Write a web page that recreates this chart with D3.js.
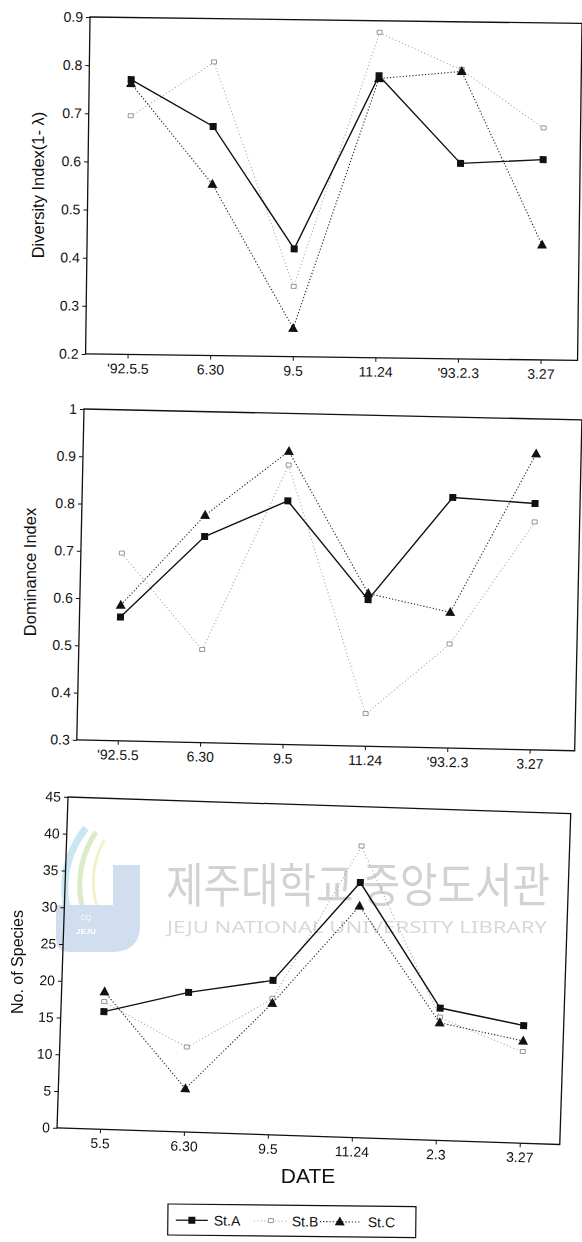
<!DOCTYPE html>
<html>
<head>
<meta charset="utf-8">
<script src="https://cdn.jsdelivr.net/npm/d3@7"></script>
<style>
  html, body { margin: 0; padding: 0; background: #fff; }
  svg { display: block; font-family: "Liberation Sans", Arial, sans-serif; }
</style>
</head>
<body>
<svg id="chart" width="582" height="1242"></svg>
<script>
// ---------- data ----------
const datesTop = ["'92.5.5", "6.30", "9.5", "11.24", "'93.2.3", "3.27"];
const datesBottom = ["5.5", "6.30", "9.5", "11.24", "2.3", "3.27"];
const seriesNames = ["St.A", "St.B", "St.C"];

// Diversity Index (1-λ)
const divA = [0.771, 0.676, 0.424, 0.786, 0.606, 0.616];
const divB = [0.695, 0.809, 0.345, 0.875, 0.800, 0.681];
const divC = [0.763, 0.556, 0.259, 0.780, 0.797, 0.439];
const divTicks = [0.2, 0.3, 0.4, 0.5, 0.6, 0.7, 0.8, 0.9];

// Dominance Index
const domA = [0.562, 0.736, 0.815, 0.610, 0.830, 0.821];
const domB = [0.696, 0.496, 0.890, 0.368, 0.519, 0.781];
const domC = [0.587, 0.781, 0.920, 0.623, 0.587, 0.926];
const domTicks = [0.3, 0.4, 0.5, 0.6, 0.7, 0.8, 0.9, 1];

// No. of Species
const spA = [16.0, 19.0, 21.0, 34.7, 18.0, 16.0];
const spB = [17.3, 11.5, 18.5, 39.6, 16.7, 12.4];
const spC = [18.7, 5.9, 17.9, 31.5, 16.0, 13.9];
const spTicks = [0, 5, 10, 15, 20, 25, 30, 35, 40, 45];

// ---------- drawing ----------
const svg = d3.select("#chart");

const styles = {
  "St.A": { stroke: "#111", width: 1.4, dash: null, marker: "square", fill: "#111", size: 7 },
  "St.B": { stroke: "#9a9a9a", width: 1, dash: "1,2.5", marker: "open", fill: "#fff", size: 5 },
  "St.C": { stroke: "#222", width: 1.1, dash: "1.2,2", marker: "triangle", fill: "#111", size: 10 }
};

function drawMarker(g, type, x, y, size, st) {
  if (type === "square") {
    g.append("rect").attr("x", x - size / 2).attr("y", y - size / 2)
      .attr("width", size).attr("height", size).attr("fill", st.fill);
  } else if (type === "open") {
    g.append("rect").attr("x", x - size / 2).attr("y", y - size / 2)
      .attr("width", size).attr("height", size * 0.8)
      .attr("fill", "#fff").attr("stroke", "#8a8a8a").attr("stroke-width", 0.9);
  } else {
    const h = size * 0.9;
    g.append("path")
      .attr("d", `M${x},${y - h * 0.6} L${x + size / 2},${y + h * 0.4} L${x - size / 2},${y + h * 0.4} Z`)
      .attr("fill", st.fill);
  }
}

function drawChart(cfg) {
  const g = svg.append("g")
    .attr("transform", `translate(${cfg.x0},${cfg.y0}) rotate(${cfg.angle})`);
  const x = d3.scalePoint().domain(cfg.cats).range([cfg.xPad, cfg.xPad + cfg.xSpan]);
  const y = d3.scaleLinear().domain(cfg.yDomain).range([cfg.h, 0]);

  g.append("rect").attr("x", 0).attr("y", 0).attr("width", cfg.w).attr("height", cfg.h)
    .attr("fill", "none").attr("stroke", "#111").attr("stroke-width", 1.3);

  const yAxis = d3.axisLeft(y).tickValues(cfg.ticks).tickSize(4).tickPadding(3)
    .tickFormat(cfg.fmt);
  const ya = g.append("g").call(yAxis);
  const xAxis = d3.axisBottom(x).tickSize(4).tickPadding(5);
  const xa = g.append("g").attr("transform", `translate(0,${cfg.h})`).call(xAxis);
  [ya, xa].forEach(a => {
    a.select(".domain").remove();
    a.selectAll("line").attr("stroke", "#111").attr("stroke-width", 1);
    a.selectAll("text").attr("fill", "#111").style("font-size", "14px")
      .style("font-family", "'Liberation Sans', Arial, sans-serif");
  });

  const order = ["St.B", "St.C", "St.A"];
  order.forEach(name => {
    const vals = cfg.series[name];
    const st = styles[name];
    const pts = vals.map((v, i) => [x(cfg.cats[i]), y(v)]);
    g.append("path").attr("d", d3.line()(pts))
      .attr("fill", "none").attr("stroke", st.stroke).attr("stroke-width", st.width)
      .attr("stroke-dasharray", st.dash);
    pts.forEach(p => drawMarker(g, st.marker, p[0], p[1], st.size, st));
  });
  return g;
}

// ---------- watermark ----------
const wm = svg.append("g").attr("opacity", 0.55);
wm.append("path").attr("d", "M86,828 C60,860 58,905 80,940").attr("fill", "none")
  .attr("stroke", "#9fd3e6").attr("stroke-width", 7);
wm.append("path").attr("d", "M96,832 C76,862 74,900 92,930").attr("fill", "none")
  .attr("stroke", "#b7dc9a").attr("stroke-width", 5);
wm.append("path").attr("d", "M104,840 C90,866 90,896 102,918").attr("fill", "none")
  .attr("stroke", "#e8e6a0").attr("stroke-width", 3);
wm.append("path").attr("d", "M113,865 L140,865 L140,925 Q140,952 112,952 L70,952 Q56,952 56,938 L56,905 L113,905 Z")
  .attr("fill", "#a9c3e3");
wm.append("text").attr("x", 86).attr("y", 934).attr("text-anchor", "middle")
  .attr("fill", "#fff").style("font-size", "8px").style("font-weight", "bold").text("JEJU");
wm.append("text").attr("x", 86).attr("y", 920).attr("text-anchor", "middle")
  .attr("fill", "#fff").style("font-size", "7px").text("CQ");
wm.append("text").attr("transform", "translate(166,902) scale(1,1.1)")
  .attr("x", 0).attr("y", 0).attr("textLength", 384).attr("lengthAdjust", "spacingAndGlyphs")
  .attr("fill", "#adadad").style("font-family", "'Noto Sans CJK KR', sans-serif")
  .style("font-size", "42px").text("제주대학교 중앙도서관");
wm.append("text").attr("x", 167).attr("y", 933)
  .attr("textLength", 380).attr("lengthAdjust", "spacingAndGlyphs")
  .attr("fill", "#b8b8b8").style("font-family", "'Noto Sans', sans-serif")
  .style("font-size", "17px").text("JEJU NATIONAL UNIVERSITY LIBRARY");

// ---------- charts ----------
drawChart({
  x0: 90, y0: 17, w: 492, h: 337, angle: 0.75,
  cats: datesTop, xPad: 42, xSpan: 413,
  yDomain: [0.2, 0.9], ticks: divTicks, fmt: d3.format(".1f"),
  series: { "St.A": divA, "St.B": divB, "St.C": divC }
});
drawChart({
  x0: 84, y0: 409, w: 498, h: 331, angle: 1.25,
  cats: datesTop, xPad: 41, xSpan: 412,
  yDomain: [0.3, 1], ticks: domTicks, fmt: d => d === 1 ? "1" : d.toFixed(1),
  series: { "St.A": domA, "St.B": domB, "St.C": domC }
});
drawChart({
  x0: 68, y0: 797, w: 503, h: 331, angle: 1.9,
  cats: datesBottom, xPad: 43, xSpan: 420,
  yDomain: [0, 45], ticks: spTicks, fmt: d3.format("d"),
  series: { "St.A": spA, "St.B": spB, "St.C": spC }
});

// ---------- axis titles ----------
function yTitle(x, y, t, fs) {
  svg.append("text").attr("transform", `translate(${x},${y}) rotate(-90)`)
    .attr("text-anchor", "middle").attr("fill", "#111").style("font-size", fs + "px").text(t);
}
yTitle(44, 185, "Diversity Index(1- λ)", 16.5);
yTitle(36, 572, "Dominance Index", 16.5);
yTitle(23, 962, "No. of Species", 16);

svg.append("text").attr("x", 308).attr("y", 1183).attr("text-anchor", "middle")
  .attr("fill", "#111").style("font-size", "21px").text("DATE");

// ---------- legend ----------
const lg = svg.append("g").attr("transform", "translate(168,1204) rotate(0.6)");
lg.append("rect").attr("x", 0).attr("y", 0).attr("width", 248).attr("height", 31)
  .attr("fill", "#fff").attr("stroke", "#111").attr("stroke-width", 1.2);
const legX = [[8, 40, 46], [86, 120, 124], [152, 192, 200]];
seriesNames.forEach((name, i) => {
  const st = styles[name];
  const [x1, x2, tx] = legX[i];
  lg.append("line").attr("x1", x1).attr("x2", x2).attr("y1", 16).attr("y2", 16)
    .attr("stroke", st.stroke).attr("stroke-width", st.width).attr("stroke-dasharray", st.dash);
  drawMarker(lg, st.marker, (x1 + x2) / 2, 16, st.size, st);
  lg.append("text").attr("x", tx).attr("y", 21).attr("fill", "#111")
    .style("font-size", "14px").text(name);
});
</script>
</body>
</html>
